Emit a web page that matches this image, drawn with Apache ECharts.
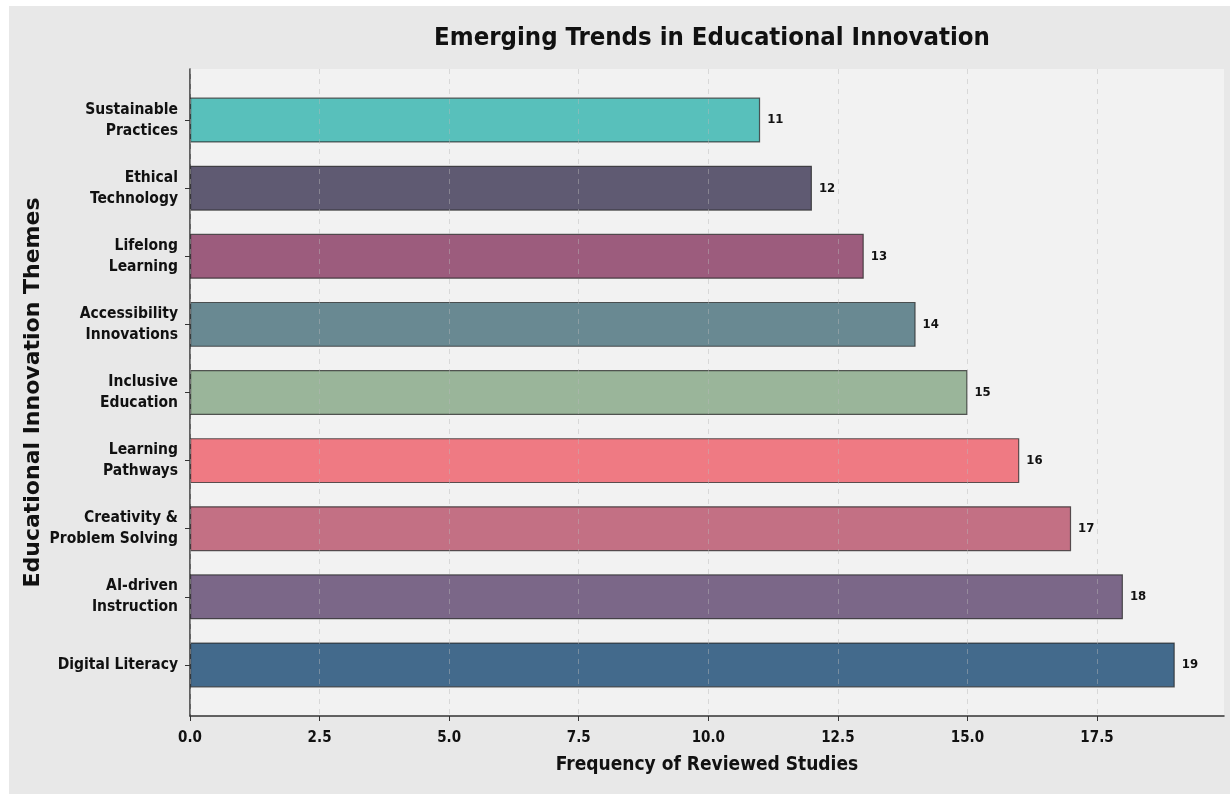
<!DOCTYPE html>
<html>
<head>
<meta charset="utf-8">
<script src="https://cdn.jsdelivr.net/npm/echarts@6/dist/echarts.min.js"></script>
<style>
  body { margin: 0; background: #fff; }
  #chart { position: absolute; left: 9px; top: 6px; width: 1221px; height: 788px; background: #e8e8e8; }
</style>
</head>
<body>
<div id="chart"></div>
<script>
'use strict';

// bottom to top, as drawn
var themes = ['Digital Literacy', 'AI-driven\nInstruction', 'Creativity &\nProblem Solving', 'Learning\nPathways',
  'Inclusive\nEducation', 'Accessibility\nInnovations', 'Lifelong\nLearning', 'Ethical\nTechnology', 'Sustainable\nPractices'];
var studies = [19, 18, 17, 16, 15, 14, 13, 12, 11];
var barColors = ['#436a8c', '#7b6788', '#c37084', '#ef7a83', '#9ab59a', '#698992', '#9c5c7d', '#5f5a72', '#58c0bb'];
var xTicks = [0, 2.5, 5, 7.5, 10, 12.5, 15, 17.5];

var font = '"DejaVu Sans Condensed", "DejaVu Sans", sans-serif';
var xMax = 19.95;
var gridMax = 17.5;
// px per unit on the x axis, so the gridline-only grid lines up with the bars
var plotW = 1221 - 181 - 6;
var gridRight = 1221 - 181 - plotW * gridMax / xMax;

var myChart = echarts.init(document.getElementById('chart'));

var option = {
  title: {
    text: 'Emerging Trends in Educational Innovation',
    left: 698,
    textAlign: 'center',
    top: 14,
    textStyle: { fontFamily: font, fontWeight: 'bold', fontSize: 25.5, color: '#111' }
  },
  grid: [
    // frame: background, spines, x ticks
    { left: 181, right: 6, top: 63, bottom: 78, show: true, backgroundColor: '#f2f2f2', borderWidth: 0 },
    // bars
    { left: 181, right: 6, top: 80, bottom: 95 },
    // dashed gridlines, drawn above the bars
    { left: 181, right: gridRight, top: 63, bottom: 78 }
  ],
  xAxis: [{
    gridIndex: 0,
    type: 'value',
    min: 0,
    max: xMax,
    name: 'Frequency of Reviewed Studies',
    nameLocation: 'middle',
    nameGap: 40,
    nameTextStyle: { fontFamily: font, fontWeight: 'bold', fontSize: 19, color: '#111' },
    axisLine: { show: true, lineStyle: { color: '#333', width: 1.5 } },
    axisTick: { show: true, length: 5, customValues: xTicks, lineStyle: { color: '#333' } },
    axisLabel: {
      customValues: xTicks,
      margin: 15,
      fontFamily: font, fontWeight: 'bold', fontSize: 15, color: '#111',
      formatter: function(v) { return v.toFixed(1); }
    },
    splitLine: { show: false }
  }, {
    gridIndex: 1,
    type: 'value',
    min: 0,
    max: xMax,
    show: false
  }, {
    gridIndex: 2,
    type: 'value',
    min: 0,
    max: gridMax,
    interval: 2.5,
    z: 5,
    axisLine: { show: false },
    axisTick: { show: false },
    axisLabel: { show: false },
    splitLine: { show: true, lineStyle: { color: 'rgba(185,185,185,0.45)', type: [5, 5], width: 1 } }
  }],
  yAxis: [{
    gridIndex: 0,
    type: 'value',
    min: 0,
    max: 1,
    name: 'Educational Innovation Themes',
    nameLocation: 'middle',
    nameGap: 146,
    nameTextStyle: { fontFamily: '"DejaVu Sans", sans-serif', fontWeight: 'bold', fontSize: 22, color: '#111' },
    axisLine: { show: true, lineStyle: { color: '#333', width: 1.5 } },
    axisTick: { show: false },
    axisLabel: { show: false },
    splitLine: { show: false }
  }, {
    gridIndex: 1,
    type: 'category',
    data: themes,
    axisLine: { show: false },
    axisTick: { show: true, length: 5, alignWithLabel: true, lineStyle: { color: '#333' } },
    axisLabel: {
      margin: 12,
      fontFamily: font, fontWeight: 'bold', fontSize: 15.5, lineHeight: 21, color: '#111', align: 'right'
    }
  }, {
    gridIndex: 2,
    type: 'value',
    show: false
  }],
  series: [{
    type: 'bar',
    xAxisIndex: 1,
    yAxisIndex: 1,
    barWidth: '66%',
    data: studies.map(function(v, i) {
      return { value: v, itemStyle: { color: barColors[i] } };
    }),
    itemStyle: { borderColor: 'rgba(40,40,40,0.75)', borderWidth: 1.2 },
    label: {
      show: true,
      position: 'right',
      distance: 7,
      fontFamily: font, fontWeight: 'bold', fontSize: 13, color: '#111'
    }
  }]
};

myChart.setOption(option);

window.addEventListener('resize', function() { myChart.resize(); });
</script>
</body>
</html>
